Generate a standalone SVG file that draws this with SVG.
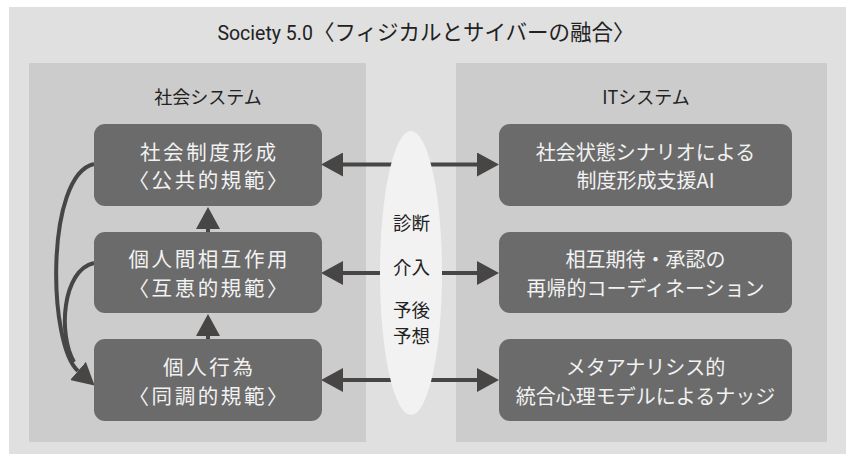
<svg xmlns="http://www.w3.org/2000/svg" width="846" height="454" viewBox="0 0 846 454">
<style>
.bg{fill:#ffffff}
.outer{fill:#e0e0e0}
.panel{fill:#cccccc}
.node{fill:#6b6b6b}
.ell{fill:#f2f2f2}
.conn{stroke:#484545;stroke-width:4;fill:none}
.t{font-family:"Noto Sans CJK JP","Noto Sans",sans-serif;}
.title{font-size:21.5px;fill:#222222;text-anchor:middle}
.plabel{font-size:18px;fill:#222222;text-anchor:middle}
.nl{font-size:20.5px;fill:#f2f2f2;text-anchor:middle;letter-spacing:2.6px}
.nr{font-size:20px;fill:#f2f2f2;text-anchor:middle}
.et{font-size:18.5px;fill:#222222;text-anchor:middle}
</style>
<defs>
<marker id="ah" markerUnits="userSpaceOnUse" markerWidth="22" markerHeight="24" viewBox="0 0 22 24" refX="0" refY="12" orient="auto-start-reverse">
<path d="M0,0 L22,12 L0,24 z" fill="#484545"/>
</marker>
</defs>
<rect class="bg" x="0" y="0" width="846" height="454"/>
<rect class="outer" x="9" y="7" width="837" height="447"/>
<text class="t title" x="426" y="40"><tspan font-family="Roboto,sans-serif" font-size="19.5px">Society 5.0</tspan>〈フィジカルとサイバーの融合〉</text>

<g id="panel-social">
<rect class="panel" x="29" y="63" width="337" height="379"/>
<text class="t plabel" x="208" y="104">社会システム</text>
</g>
<g id="panel-it">
<rect class="panel" x="456" y="63" width="371" height="379"/>
<text class="t plabel" x="646" y="104">ITシステム</text>
</g>

<g id="connectors">
<line class="conn" x1="343" y1="164.5" x2="477" y2="164.5" marker-start="url(#ah)" marker-end="url(#ah)"/>
<line class="conn" x1="343" y1="273" x2="477" y2="273" marker-start="url(#ah)" marker-end="url(#ah)"/>
<line class="conn" x1="343" y1="380" x2="477" y2="380" marker-start="url(#ah)" marker-end="url(#ah)"/>
<line class="conn" x1="208" y1="232" x2="208" y2="229" marker-end="url(#ah)"/>
<line class="conn" x1="208" y1="339" x2="208" y2="336" marker-end="url(#ah)"/>
<path class="conn" d="M94,164 C45,175 48,345 78,371" marker-end="url(#ah)"/>
<path class="conn" d="M94,263 C62,270 58,335 74,362"/>
</g>

<g id="node-ellipse">
<ellipse class="ell" cx="411" cy="273" rx="31" ry="142"/>
<text class="t et" x="411.5" y="230">診断</text>
<text class="t et" x="411.5" y="274">介入</text>
<text class="t et" x="411.5" y="317">予後</text>
<text class="t et" x="411.5" y="343">予想</text>
</g>

<g id="node-l1">
<rect class="node" x="94" y="124" width="228" height="82" rx="11"/>
<text class="t nl" x="209.3" y="160">社会制度形成</text>
<text class="t nl" x="209.3" y="188">〈公共的規範〉</text>
</g>
<g id="node-l2">
<rect class="node" x="94" y="232" width="228" height="81" rx="11"/>
<text class="t nl" x="209.3" y="267">個人間相互作用</text>
<text class="t nl" x="209.3" y="296">〈互恵的規範〉</text>
</g>
<g id="node-l3">
<rect class="node" x="94" y="339" width="228" height="82" rx="11"/>
<text class="t nl" x="209.3" y="375">個人行為</text>
<text class="t nl" x="209.3" y="404">〈同調的規範〉</text>
</g>

<g id="node-r1">
<rect class="node" x="499" y="124" width="293" height="82" rx="11"/>
<text class="t nr" x="645.5" y="160">社会状態シナリオによる</text>
<text class="t nr" x="645.5" y="188">制度形成支援AI</text>
</g>
<g id="node-r2">
<rect class="node" x="499" y="232" width="293" height="81" rx="11"/>
<text class="t nr" x="645.5" y="267">相互期待・承認の</text>
<text class="t nr" x="645.5" y="296">再帰的コーディネーション</text>
</g>
<g id="node-r3">
<rect class="node" x="499" y="339" width="293" height="82" rx="11"/>
<text class="t nr" x="645.5" y="375">メタアナリシス的</text>
<text class="t nr" x="645.5" y="404">統合心理モデルによるナッジ</text>
</g>
</svg>
